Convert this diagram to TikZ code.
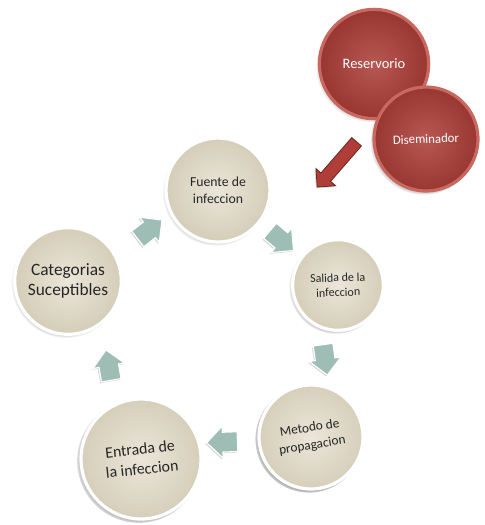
\documentclass[tikz,border=0pt]{standalone}
\usepackage{fontspec}
\setmainfont{Carlito}
\usetikzlibrary{calc,shapes.arrows,shadows}

\definecolor{beigeIn}{RGB}{234,230,217}
\definecolor{beigeOut}{RGB}{212,205,184}
\definecolor{redIn}{RGB}{184,88,82}
\definecolor{redOut}{RGB}{152,54,50}
\definecolor{redRim}{RGB}{200,104,95}
\definecolor{tealArr}{RGB}{157,189,181}
\definecolor{redArr}{RGB}{176,62,56}

\tikzset{
  bubble/.style={circle, inner sep=0pt, align=center, text=black!85, draw=white, line width=2.4pt,
    shading=radial, inner color=beigeIn, outer color=beigeOut,
    circular drop shadow={shadow xshift=-1.5pt, shadow yshift=-1.5pt, shadow scale=1.03, fill=black, opacity=0.4}},
  redbubble/.style={bubble, text=white, draw=redRim, inner color=redIn, outer color=redOut},
  blockarrow/.style={single arrow, draw=white, line width=0.8pt, fill=tealArr, inner xsep=0pt, inner ysep=7pt,
    minimum height=23pt, single arrow head extend=4.5pt,
    drop shadow={shadow xshift=-1pt, shadow yshift=-1pt, opacity=0.3}},
  redarrow/.style={single arrow, draw=redOut!70!black, line width=0.6pt, fill=redArr, inner xsep=0pt, inner ysep=4.5pt,
    minimum height=45pt, single arrow head extend=5pt,
    drop shadow={shadow xshift=-1pt, shadow yshift=-1pt, opacity=0.3}},
}

\begin{document}
\begin{tikzpicture}[x=0.75pt,y=0.75pt,yscale=-1,xscale=1]
\useasboundingbox (0,0) rectangle (485,525);

%Shape: Circle -- red pair
\node [redbubble, minimum size=82pt, font=\fontsize{10.8}{13}\selectfont] (reserv) at (374,64) {Reservorio};
\node [redbubble, minimum size=78pt, font=\fontsize{9.6}{12}\selectfont, rotate=2] (disem) at (426,139) {Diseminador};

%Shape: Circle -- cycle
\node [bubble, minimum size=78pt, font=\fontsize{10.3}{12.5}\selectfont] (fuente) at (218,190) {Fuente de\\infeccion};
\node [bubble, minimum size=68pt, font=\fontsize{9}{11}\selectfont, rotate=2] (salida) at (338,285) {Salida de la\\infeccion};
\node [bubble, minimum size=80pt, font=\fontsize{13}{15.5}\selectfont] (cat) at (68,281) {Categorias\\Suceptibles};
\node [bubble, minimum size=78pt, font=\fontsize{10}{13}\selectfont, rotate=9] (metodo) at (311,437) {Metodo de\\propagacion};
\node [bubble, minimum size=90pt, font=\fontsize{11.9}{15}\selectfont, rotate=6] (entrada) at (141,459) {Entrada de\\la infeccion};

%Block Arrows
\node [blockarrow, rotate=38] (a1) at ($(cat)!0.5!(fuente)+(3,-3)$) {};
\node [blockarrow, rotate=-40] (a2) at ($(fuente)!0.5!(salida)$) {};
\node [blockarrow, rotate=-82] (a3) at ($(salida)!0.5!(metodo)+(0,-6)$) {};
\node [blockarrow, rotate=182] (a4) at ($(metodo)!0.5!(entrada)+(1,-6)$) {};
\node [blockarrow, rotate=100] (a5) at ($(entrada)!0.5!(cat)+(5,0)$) {};

%Red Arrow
\node [redarrow, rotate=229] (ra) at (339,162) {};

\end{tikzpicture}
\end{document}
